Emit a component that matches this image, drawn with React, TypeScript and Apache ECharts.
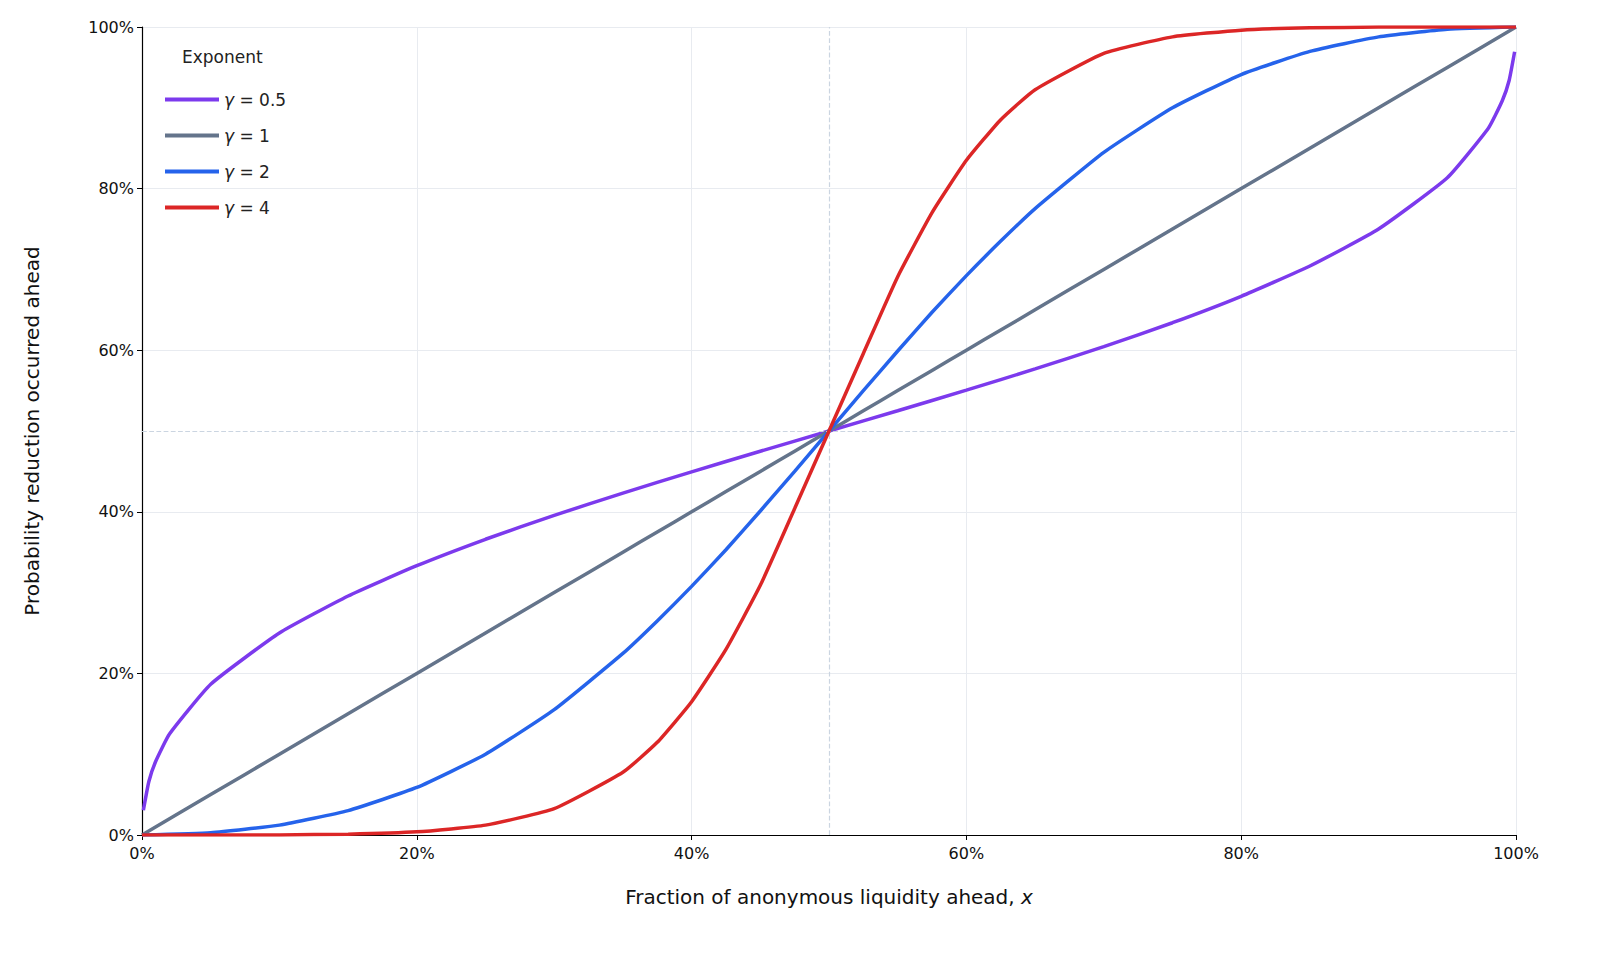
import React, { useRef, useEffect } from "react";
import * as echarts from "echarts";

// x positions (fraction) shared by gamma 1, 2, 4
const xValues = [0, 0.05, 0.1, 0.15, 0.2, 0.25, 0.3, 0.35, 0.375, 0.4, 0.425, 0.45, 0.475, 0.5, 0.525, 0.55, 0.575, 0.6, 0.625, 0.65, 0.7, 0.75, 0.8, 0.85, 0.9, 0.95, 1];
const gamma1 = xValues.map((x) => x);
const gamma2 = [0, 0.0028, 0.0122, 0.0302, 0.0588, 0.1, 0.1552, 0.2248, 0.265, 0.3077, 0.353, 0.401, 0.45, 0.5, 0.55, 0.599, 0.647, 0.6923, 0.735, 0.7752, 0.8448, 0.9, 0.9412, 0.9698, 0.9878, 0.9972, 1];
const gamma4 = [0, 0.00001, 0.00015, 0.001, 0.0039, 0.0122, 0.0326, 0.0776, 0.1147, 0.165, 0.2297, 0.309, 0.404, 0.5, 0.596, 0.691, 0.7703, 0.835, 0.8853, 0.9224, 0.9674, 0.9878, 0.9961, 0.999, 0.99985, 0.99999, 1];
// gamma 0.5 needs denser sampling at the ends
const xHalf = [0.001, 0.005, 0.01, 0.02, 0.05, 0.1, 0.15, 0.2, 0.25, 0.3, 0.35, 0.4, 0.45, 0.5, 0.55, 0.6, 0.65, 0.7, 0.75, 0.8, 0.85, 0.9, 0.95, 0.98, 0.99, 0.995, 0.999];
const gammaHalf = [0.0307, 0.0662, 0.0913, 0.125, 0.1866, 0.25, 0.2958, 0.3333, 0.366, 0.3956, 0.4232, 0.4495, 0.4749, 0.5, 0.5251, 0.5505, 0.5768, 0.6044, 0.634, 0.6667, 0.7042, 0.75, 0.8134, 0.875, 0.9087, 0.9338, 0.9693];

const seriesDefs = [
  { name: "0.5", xs: xHalf, ys: gammaHalf, color: "#7c3aed" },
  { name: "1", xs: xValues, ys: gamma1, color: "#64748b" },
  { name: "2", xs: xValues, ys: gamma2, color: "#2563eb" },
  { name: "4", xs: xValues, ys: gamma4, color: "#dc2626" },
];

const font = "DejaVu Sans";

export default function App() {
  const ref = useRef<HTMLDivElement>(null);

  useEffect(() => {
    if (!ref.current) return;
    document.body.style.margin = "0";
    document.body.style.overflow = "hidden";
    const chart = echarts.init(ref.current, undefined, { renderer: "svg" });
    const axisCommon = {
      type: "value" as const,
      min: 0,
      max: 1,
      interval: 0.2,
      axisLine: { show: true, lineStyle: { color: "#000", width: 1.2 } },
      axisTick: { show: true, length: 5, lineStyle: { color: "#000" } },
      axisLabel: { color: "#111", fontSize: 16, fontFamily: font, formatter: (v: number) => `${Math.round(v * 100)}%` },
      splitLine: { show: true, lineStyle: { color: "#e8ebf0", width: 1 } },
    };
    chart.setOption({
      animation: false,
      textStyle: { fontFamily: font },
      grid: { left: 142, right: 85, top: 27, bottom: 119, containLabel: false },
      graphic: [
        { type: "text", left: 182, top: 48, style: { text: "Exponent", fontSize: 17, fontFamily: font, fill: "#222" } },
      ],
      legend: {
        orient: "vertical",
        left: 160,
        top: 86,
        itemWidth: 54,
        itemHeight: 4,
        itemGap: 19,
        icon: "rect",
        textStyle: {
          fontSize: 17,
          fontFamily: font,
          color: "#222",
          rich: { g: { fontStyle: "italic", fontSize: 17, fontFamily: font } },
        },
        formatter: (n: string) => `{g|γ} = ${n}`,
      },
      xAxis: {
        ...axisCommon,
        name: "Fraction of anonymous liquidity ahead, {i|x}",
        nameLocation: "middle",
        nameGap: 52,
        nameTextStyle: { fontSize: 20, fontFamily: font, color: "#111", rich: { i: { fontStyle: "italic", fontSize: 20, fontFamily: font } } },
        axisLabel: { ...axisCommon.axisLabel, margin: 10 },
      },
      yAxis: {
        ...axisCommon,
        name: "Probability reduction occurred ahead",
        nameLocation: "middle",
        nameGap: 100,
        nameTextStyle: { fontSize: 20, fontFamily: font, color: "#111" },
        axisLabel: { ...axisCommon.axisLabel, margin: 8 },
      },
      series: seriesDefs.map((s, i) => ({
        name: s.name,
        type: "line",
        data: s.xs.map((x, j) => [x, s.ys[j]]),
        smooth: 0.15,
        symbol: "none",
        color: s.color,
        lineStyle: { width: 3.5, color: s.color },
        z: 2 + i,
        markLine: i === 0 ? {
          silent: true,
          symbol: "none",
          label: { show: false },
          lineStyle: { type: "dashed", color: "#cbd5e1", width: 1.2 },
          data: [{ xAxis: 0.5 }, { yAxis: 0.5 }],
        } : undefined,
      })),
    });
    return () => chart.dispose();
  }, []);

  return <div ref={ref} style={{ width: 1601, height: 954 }} />;
}
